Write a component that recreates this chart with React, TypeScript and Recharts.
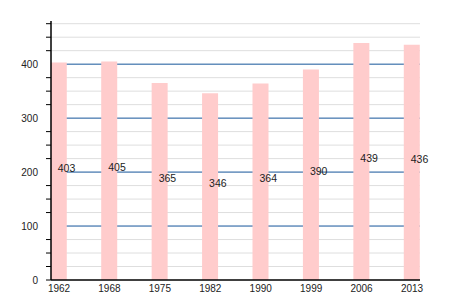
import { BarChart, Bar, XAxis, YAxis, CartesianGrid, LabelList } from "recharts";

const years = ["1962", "1968", "1975", "1982", "1990", "1999", "2006", "2013"];
const population = [403, 405, 365, 346, 364, 390, 439, 436];
const majorTicks = [100, 200, 300, 400];
const minorTicks = [25, 50, 75, 125, 150, 175, 225, 250, 275, 325, 350, 375, 425, 450, 475];
const allTicks = [0, 25, 50, 75, 100, 125, 150, 175, 200, 225, 250, 275, 300, 325, 350, 375, 400, 425, 450, 475];

const data = population.map((value, i) => ({ i, year: years[i], value }));

const font = "'Liberation Sans', Arial, sans-serif";

const YTick = (props: any) => {
  const { x, y, payload } = props;
  const v = payload.value as number;
  const isMajor = majorTicks.includes(v) || v === 0;
  return (
    <g>
      {!majorTicks.includes(v) && <line x1={x - 5} x2={x} y1={y} y2={y} stroke="#000" strokeWidth={1} />}
      {isMajor && (
        <text x={x - 13} y={y + 3.5} textAnchor="end" fontSize={10} fill="#222" fontFamily={font}>
          {v}
        </text>
      )}
    </g>
  );
};

const XTick = (props: any) => {
  const { x, y, payload } = props;
  return (
    <text x={x} y={y + 12} textAnchor="middle" fontSize={10} fill="#222" fontFamily={font}>
      {years[payload.value]}
    </text>
  );
};

const ValueLabel = (props: any) => {
  const { x, y, width, height, value } = props;
  return (
    <text
      x={x + width / 2 - 1}
      y={y + height / 2 + 0.5}
      textAnchor="start"
      fontSize={10.5}
      fill="#222"
      fontFamily={font}
    >
      {value}
    </text>
  );
};

export default function App() {
  return (
    <div style={{ position: "absolute", left: 0, top: 0, background: "#fff" }}>
      <BarChart width={450} height={300} data={data} margin={{ top: 21, right: 30, bottom: 0, left: 0 }}>
        <CartesianGrid horizontal vertical={false} horizontalValues={minorTicks} stroke="#dedede" strokeWidth={1} />
        <CartesianGrid horizontal vertical={false} horizontalValues={majorTicks} stroke="#15559a" strokeWidth={1} />
        <XAxis
          type="number"
          dataKey="i"
          domain={[0, 7]}
          ticks={[0, 1, 2, 3, 4, 5, 6, 7]}
          padding={{ left: 8, right: 8 }}
          height={20}
          tickSize={0}
          tickMargin={0}
          tickLine={false}
          axisLine={{ stroke: "#000", strokeWidth: 1.5 }}
          tick={<XTick />}
          interval={0}
        />
        <YAxis
          type="number"
          domain={[0, 480]}
          ticks={allTicks}
          width={51}
          tickSize={0}
          tickMargin={0}
          tickLine={false}
          axisLine={{ stroke: "#000", strokeWidth: 1.5 }}
          tick={<YTick />}
          interval={0}
        />
        <Bar dataKey="value" fill="#ffcccc" barSize={16} isAnimationActive={false}>
          <LabelList dataKey="value" content={<ValueLabel />} />
        </Bar>
      </BarChart>
    </div>
  );
}
